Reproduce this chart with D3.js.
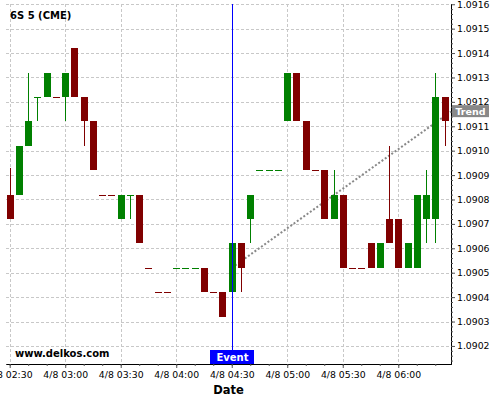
<!DOCTYPE html>
<html><head><meta charset="utf-8">
<script src="https://cdn.jsdelivr.net/npm/d3@7"></script>
<style>body{margin:0;background:#fff}svg{display:block;font-family:"DejaVu Sans",sans-serif}</style>
</head><body><svg id="c" width="500" height="400"></svg>
<script>
const times=["02:30","02:35","02:40","02:45","02:50","02:55","03:00","03:05","03:10","03:15","03:20","03:25","03:30","03:35","03:40","03:45","03:50","03:55","04:00","04:05","04:10","04:15","04:20","04:25","04:30","04:35","04:40","04:45","04:50","04:55","05:00","05:05","05:10","05:15","05:20","05:25","05:30","05:35","05:40","05:45","05:50","05:55","06:00","06:05","06:10","06:15","06:20","06:25"];
const opens=[1.09082,1.09082,1.09102,1.09122,1.09122,1.09122,1.09122,1.09142,1.09122,1.09112,1.09082,1.09082,1.09072,1.09082,1.09082,1.09052,1.09042,1.09042,1.09052,1.09052,1.09052,1.09052,1.09042,1.09042,1.09042,1.09062,1.09072,1.09092,1.09092,1.09092,1.09112,1.09132,1.09112,1.09092,1.09092,1.09072,1.09082,1.09052,1.09052,1.09062,1.09052,1.09072,1.09072,1.09052,1.09052,1.09072,1.09072,1.09122];
const highs=[1.09093,1.09102,1.09132,1.09122,1.09132,1.09122,1.09132,1.09142,1.09122,1.09112,1.09082,1.09082,1.09082,1.09082,1.09082,1.09052,1.09042,1.09042,1.09052,1.09052,1.09052,1.09052,1.09042,1.09042,1.09062,1.09062,1.09082,1.09092,1.09092,1.09092,1.09132,1.09132,1.09112,1.09092,1.09092,1.09092,1.09082,1.09052,1.09052,1.09062,1.09062,1.09102,1.09072,1.09062,1.09082,1.09092,1.09132,1.09122];
const lows=[1.09072,1.09082,1.09102,1.09112,1.09122,1.09122,1.09112,1.09122,1.09102,1.09092,1.09082,1.09082,1.09072,1.09072,1.09062,1.09052,1.09042,1.09042,1.09052,1.09052,1.09052,1.09042,1.09042,1.09032,1.09042,1.09042,1.09062,1.09092,1.09092,1.09092,1.09112,1.09112,1.09092,1.09092,1.09072,1.09072,1.09052,1.09052,1.09052,1.09052,1.09052,1.09062,1.09052,1.09052,1.09052,1.09062,1.09062,1.09102];
const closes=[1.09072,1.09102,1.09112,1.09122,1.09132,1.09122,1.09132,1.09122,1.09112,1.09092,1.09082,1.09082,1.09082,1.09082,1.09062,1.09052,1.09042,1.09042,1.09052,1.09052,1.09052,1.09042,1.09042,1.09032,1.09062,1.09052,1.09082,1.09092,1.09092,1.09092,1.09132,1.09112,1.09092,1.09092,1.09072,1.09082,1.09052,1.09052,1.09052,1.09052,1.09062,1.09062,1.09052,1.09062,1.09082,1.09082,1.09122,1.09112];
const xTickLabels=["02:30","03:00","03:30","04:00","04:30","05:00","05:30","06:00"];
const yTickValues=[1.0902,1.0903,1.0904,1.0905,1.0906,1.0907,1.0908,1.0909,1.0910,1.0911,1.0912,1.0913,1.0914,1.0915,1.0916];
const trendTimes=["04:30:00","06:28:30"];
const trendValues=[1.09052,1.09116];
const eventTime="04:30";
const title="6S 5 (CME)";
const watermark="www.delkos.com";

const day="2024-04-08 ";
const parse=d3.timeParse("%Y-%m-%d %H:%M:%S");
const T=s=>parse(day+(s.length===5?s+":00":s));
const svg=d3.select("#c");
const L=6,R=451,TOP=4,B=364;
const x=d3.scaleTime().domain([T("02:28"),T("06:28:30")]).range([L,R]);
const y=d3.scaleLinear().domain([1.090126,1.091601]).range([B,TOP]);
const GREEN="#008000",RED="#800000";

// grid
const g=svg.append("g").attr("stroke","#c8c8c8").attr("stroke-dasharray","3,2").attr("shape-rendering","crispEdges");
xTickLabels.forEach(t=>{const xx=Math.round(x(T(t)))+0.5;g.append("line").attr("x1",xx).attr("x2",xx).attr("y1",TOP).attr("y2",B);});
yTickValues.forEach(v=>{const yy=Math.round(y(v))+0.5;g.append("line").attr("x1",L).attr("x2",R).attr("y1",yy).attr("y2",yy);});

// trend line
svg.append("line").attr("x1",x(T(trendTimes[0]))).attr("y1",y(trendValues[0]))
  .attr("x2",x(T(trendTimes[1]))).attr("y2",y(trendValues[1]))
  .attr("stroke","#888").attr("stroke-width",2).attr("stroke-dasharray","2,2");

// candles
let prevClose=null,prevColor=GREEN;
const cg=svg.append("g").attr("shape-rendering","crispEdges");
times.forEach((t,i)=>{
  const o=opens[i],c=closes[i];
  let col;
  if(c>o)col=GREEN;else if(c<o)col=RED;
  else if(prevClose!==null&&c>prevClose)col=GREEN;
  else if(prevClose!==null&&c<prevClose)col=RED;
  else col=prevColor;
  prevColor=col;prevClose=c;
  const cx=Math.round(x(T(t)));
  cg.append("line").attr("x1",cx+0.5).attr("x2",cx+0.5).attr("y1",y(highs[i])).attr("y2",y(lows[i])).attr("stroke",col).attr("stroke-width",1);
  const top=Math.round(y(Math.max(o,c))),bot=Math.round(y(Math.min(o,c)));
  cg.append("rect").attr("x",cx-3).attr("width",7).attr("y",top).attr("height",Math.max(1,bot-top)).attr("fill",col);
});

// event line
const ex=Math.round(x(T(eventTime)))+0.5;
svg.append("line").attr("x1",ex).attr("x2",ex).attr("y1",TOP).attr("y2",B).attr("stroke","#0000ff").attr("stroke-width",1).attr("shape-rendering","crispEdges");
svg.append("rect").attr("x",ex-22.5).attr("y",350).attr("width",44).attr("height",14).attr("fill","#0000ff");
svg.append("text").attr("x",ex).attr("y",361).attr("text-anchor","middle").attr("fill","#fff").attr("font-weight","bold").attr("font-size","10px").text("Event");

// axes
const fmt=d3.timeFormat("%-m/%-d %H:%M");
const xAxis=svg.append("g").attr("transform",`translate(0,${B})`)
  .call(d3.axisBottom(x).tickValues(xTickLabels.map(T)).tickFormat(fmt).tickSize(4).tickSizeOuter(0).tickPadding(3));
const minorX=d3.range(0,24).map(k=>new Date(T("02:30").getTime()+k*600000));
svg.append("g").attr("transform",`translate(0,${B})`).call(d3.axisBottom(x).tickValues(minorX).tickFormat("").tickSize(2).tickSizeOuter(0));
const yAxis=svg.append("g").attr("transform",`translate(${R},0)`)
  .call(d3.axisRight(y).tickValues(yTickValues).tickFormat(d3.format(".4f")).tickSize(4).tickSizeOuter(0).tickPadding(2));
const minorY=d3.range(0,74).map(k=>1.09014+k*0.00002).filter(v=>v<1.0916);
svg.append("g").attr("transform",`translate(${R},0)`).call(d3.axisRight(y).tickValues(minorY).tickFormat("").tickSize(2).tickSizeOuter(0));
svg.selectAll(".domain").attr("stroke","#000");
svg.selectAll(".tick line").attr("stroke","#555");
svg.selectAll(".tick text").attr("font-family","DejaVu Sans").attr("font-size","9.3px").attr("fill","#000");

// trend label
const ty=y(trendValues[1]);
svg.append("rect").attr("x",R+1).attr("y",ty-6.5).attr("width",37).attr("height",12).attr("fill","#888");
svg.append("text").attr("x",R+19.5).attr("y",ty+3.5).attr("text-anchor","middle").attr("fill","#fff").attr("font-weight","bold").attr("font-size","9.5px").text("Trend");

// texts
svg.append("text").attr("x",10).attr("y",19).attr("font-weight","bold").attr("font-size","10px").attr("fill","#000").text(title);
svg.append("text").attr("x",15).attr("y",357).attr("font-weight","bold").attr("font-size","10px").attr("fill","#000").text(watermark);
svg.append("text").attr("x",(L+R)/2).attr("y",393.5).attr("text-anchor","middle").attr("font-weight","bold").attr("font-size","11.5px").attr("fill","#000").text("Date");
</script></body></html>
